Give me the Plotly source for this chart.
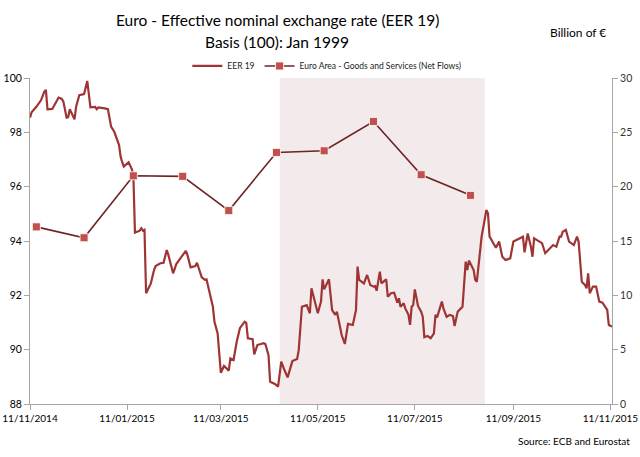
import plotly.graph_objects as go

# EER 19 daily index (Basis 100 = Jan 1999)
eer_dates = [
    "2014-11-11", "2014-11-12", "2014-11-15", "2014-11-18", "2014-11-20", "2014-11-21", "2014-11-22",
    "2014-11-25", "2014-11-27", "2014-11-29", "2014-12-01", "2014-12-02", "2014-12-04", "2014-12-05",
    "2014-12-06", "2014-12-09", "2014-12-10", "2014-12-12", "2014-12-15", "2014-12-17", "2014-12-19",
    "2014-12-22", "2014-12-23", "2014-12-24", "2014-12-28", "2014-12-30", "2015-01-01", "2015-01-03",
    "2015-01-06", "2015-01-07", "2015-01-08", "2015-01-09", "2015-01-12", "2015-01-14", "2015-01-15",
    "2015-01-16", "2015-01-19", "2015-01-20", "2015-01-21", "2015-01-22", "2015-01-23", "2015-01-26",
    "2015-01-28", "2015-01-29", "2015-02-01", "2015-02-03", "2015-02-05", "2015-02-06", "2015-02-09",
    "2015-02-11", "2015-02-14", "2015-02-17", "2015-02-18", "2015-02-20", "2015-02-23", "2015-02-24",
    "2015-02-27", "2015-03-01", "2015-03-02", "2015-03-04", "2015-03-06", "2015-03-07", "2015-03-09",
    "2015-03-11", "2015-03-13", "2015-03-16", "2015-03-17", "2015-03-19", "2015-03-21", "2015-03-23",
    "2015-03-26", "2015-03-27", "2015-03-28", "2015-03-31", "2015-04-01", "2015-04-03", "2015-04-07",
    "2015-04-08", "2015-04-10", "2015-04-11", "2015-04-14", "2015-04-16", "2015-04-18", "2015-04-20",
    "2015-04-22", "2015-04-25", "2015-04-28", "2015-04-29", "2015-05-01", "2015-05-04", "2015-05-06",
    "2015-05-07", "2015-05-09", "2015-05-11", "2015-05-13", "2015-05-14", "2015-05-15", "2015-05-18",
    "2015-05-20", "2015-05-22", "2015-05-23", "2015-05-25", "2015-05-26", "2015-05-28", "2015-05-30",
    "2015-06-02", "2015-06-04", "2015-06-05", "2015-06-06", "2015-06-09", "2015-06-11", "2015-06-13",
    "2015-06-15", "2015-06-16", "2015-06-17", "2015-06-19", "2015-06-20", "2015-06-23", "2015-06-24",
    "2015-06-26", "2015-06-28", "2015-06-30", "2015-07-01", "2015-07-02", "2015-07-04", "2015-07-05",
    "2015-07-07", "2015-07-08", "2015-07-09", "2015-07-10", "2015-07-11", "2015-07-13", "2015-07-15",
    "2015-07-16", "2015-07-17", "2015-07-19", "2015-07-21", "2015-07-23", "2015-07-24", "2015-07-25",
    "2015-07-28", "2015-07-29", "2015-07-31", "2015-08-02", "2015-08-04", "2015-08-05", "2015-08-07",
    "2015-08-10", "2015-08-12", "2015-08-13", "2015-08-14", "2015-08-17", "2015-08-18", "2015-08-19",
    "2015-08-21", "2015-08-22", "2015-08-25", "2015-08-26", "2015-08-27", "2015-08-29", "2015-08-31",
    "2015-09-02", "2015-09-04", "2015-09-06", "2015-09-09", "2015-09-11", "2015-09-15", "2015-09-17",
    "2015-09-18", "2015-09-20", "2015-09-22", "2015-09-23", "2015-09-24", "2015-09-27", "2015-09-29",
    "2015-10-01", "2015-10-05", "2015-10-06", "2015-10-08", "2015-10-10", "2015-10-11", "2015-10-12",
    "2015-10-14", "2015-10-16", "2015-10-19", "2015-10-21", "2015-10-22", "2015-10-23", "2015-10-24",
    "2015-10-26", "2015-10-27", "2015-10-28", "2015-10-29", "2015-10-31", "2015-11-02", "2015-11-04",
    "2015-11-06", "2015-11-09", "2015-11-10", "2015-11-12",
]
eer_values = [
    98.54, 98.74, 98.94, 99.19, 99.50, 99.56, 98.85,
    98.86, 99.07, 99.28, 99.23, 99.13, 98.54, 98.56,
    98.85, 98.48, 98.94, 99.37, 99.41, 99.89, 98.92,
    98.94, 98.85, 98.92, 98.88, 98.85, 98.21, 98.02,
    97.53, 97.10, 96.90, 96.74, 96.90, 96.65, 96.43,
    94.31, 94.38, 94.47, 94.38, 94.41, 92.08, 92.44,
    92.93, 93.08, 93.18, 93.20, 93.67, 93.49, 92.81,
    93.15, 93.40, 93.64, 93.49, 93.03, 93.08, 93.20,
    92.66, 92.57, 92.59, 92.13, 91.58, 91.03, 90.60,
    89.15, 89.40, 89.23, 89.68, 89.62, 90.29, 90.79,
    91.03, 90.99, 90.42, 90.39, 89.83, 90.17, 90.24,
    90.21, 89.80, 88.82, 88.74, 88.64, 89.56, 89.25,
    88.98, 89.58, 89.66, 89.99, 91.58, 91.64, 91.34,
    92.26, 91.83, 91.34, 91.77, 92.59, 92.22, 92.59,
    91.46, 91.28, 91.40, 90.85, 90.54, 90.21, 90.95,
    90.91, 91.46, 93.06, 92.57, 92.44, 92.75, 92.38,
    92.32, 92.34, 92.17, 92.87, 92.44, 92.59, 91.95,
    92.08, 92.10, 91.73, 91.89, 91.58, 91.71, 91.52,
    91.28, 90.91, 91.58, 91.64, 92.22, 91.61, 91.40,
    91.21, 90.46, 90.50, 90.42, 90.60, 91.28, 91.19,
    91.77, 91.52, 91.21, 91.28, 91.24, 90.87, 91.40,
    91.58, 93.24, 92.93, 93.28, 92.93, 92.57, 92.50,
    93.49, 94.16, 95.14, 95.02, 94.16, 93.98, 93.75,
    93.98, 93.42, 93.30, 93.36, 93.98, 94.10, 94.16,
    93.58, 94.28, 93.79, 93.42, 94.10, 93.98, 93.92,
    93.55, 93.79, 93.85, 93.79, 94.16, 94.16, 94.34,
    94.41, 93.98, 93.85, 94.16, 93.98, 93.30, 92.50,
    92.38, 92.26, 92.81, 92.08, 92.32, 92.32, 91.77,
    91.73, 91.46, 90.91, 90.85,
]

# Euro area goods and services, net flows (billion of EUR), monthly
flow_dates = ["2014-11-15", "2014-12-15", "2015-01-15", "2015-02-15", "2015-03-16",
              "2015-04-15", "2015-05-15", "2015-06-15", "2015-07-15", "2015-08-15"]
flow_values = [16.3, 15.3, 21.0, 20.95, 17.8, 23.15, 23.3, 26.0, 21.1, 19.2]

x_ticks = ["2014-11-11", "2015-01-11", "2015-03-11", "2015-05-11",
           "2015-07-11", "2015-09-11", "2015-11-11"]
shade_start, shade_end = "2015-04-17", "2015-08-24"

font_name = "Lato, Liberation Sans"
axis_grey = "#A6A6A6"

fig = go.Figure()
fig.add_trace(go.Scatter(
    x=eer_dates, y=eer_values, name="EER 19", mode="lines",
    line=dict(color="#9E3434", width=2.2)))
fig.add_trace(go.Scatter(
    x=flow_dates, y=flow_values, name="Euro Area - Goods and Services (Net Flows)",
    mode="lines+markers", yaxis="y2",
    line=dict(color="#6E2424", width=1.6),
    marker=dict(symbol="square", size=8, color="#C0504D",
                line=dict(color="rgba(255,255,255,0.8)", width=1))))

fig.add_vrect(x0=shade_start, x1=shade_end, fillcolor="#F3EAEB",
              line_width=0, layer="below")

fig.update_layout(
    width=640, height=457,
    margin=dict(l=30, r=28, t=78, b=53, autoexpand=False),
    paper_bgcolor="white", plot_bgcolor="white",
    font=dict(family=font_name, size=11, color="#222222"),
    legend=dict(orientation="h", x=0.51, xanchor="center", y=1.037, yanchor="middle",
                font=dict(size=8.5), bgcolor="rgba(0,0,0,0)", itemwidth=30),
    xaxis=dict(type="date", range=["2014-11-11", "2015-11-12"],
               tickvals=x_ticks, tickformat="%d/%m/%Y", automargin=False,
               ticklabeloverflow="allow",
               showgrid=False, showline=True, linecolor=axis_grey, linewidth=1,
               ticks="outside", tickcolor=axis_grey, ticklen=5,
               tickfont=dict(size=10, color="black"), zeroline=False),
    yaxis=dict(range=[88, 100], dtick=2, showgrid=False, showline=True, automargin=False,
               linecolor=axis_grey, linewidth=1, ticks="outside",
               tickcolor=axis_grey, ticklen=5, zeroline=False,
               tickfont=dict(size=10.5, color="black")),
    yaxis2=dict(range=[0, 30], dtick=5, overlaying="y", side="right", automargin=False,
                showgrid=False, showline=True, linecolor=axis_grey, linewidth=1,
                ticks="outside", tickcolor=axis_grey, ticklen=5, zeroline=False,
                tickfont=dict(size=10.5, color="#333333")),
)

# two-line title, centred a little left of the middle as in the original
fig.add_annotation(text="Euro - Effective nominal exchange rate (EER 19)", xref="paper", yref="paper",
                   x=0.425, y=1.178, xanchor="center", yanchor="middle", showarrow=False,
                   font=dict(size=15.5, color="black"))
fig.add_annotation(text="Basis (100): Jan 1999", xref="paper", yref="paper",
                   x=0.425, y=1.11, xanchor="center", yanchor="middle", showarrow=False,
                   font=dict(size=15.5, color="black"))
fig.add_annotation(text="Billion of €", xref="paper", yref="paper", x=0.993, y=1.14,
                   xanchor="right", yanchor="middle", showarrow=False,
                   font=dict(size=12, color="black"))
fig.add_annotation(text="Source: ECB and Eurostat", xref="paper", yref="paper",
                   x=1.035, y=-0.113, xanchor="right", yanchor="middle", showarrow=False,
                   font=dict(size=10, color="black"))

# the page's default body margin would push the 640px figure off the window
fig.write_html("out.html", config={"displayModeBar": False},
               post_script="document.body.style.margin='0';")
